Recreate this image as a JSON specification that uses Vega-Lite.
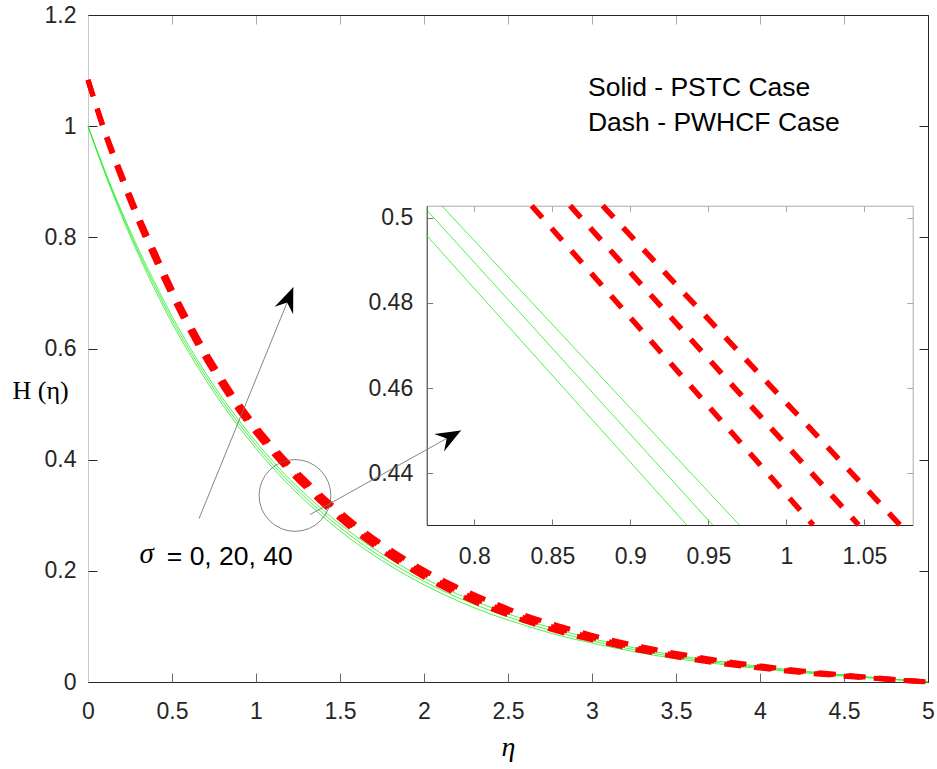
{
  "$schema": "https://vega.github.io/schema/vega-lite/v6.json",
  "width": 840,
  "height": 667,
  "autosize": {"type": "none"},
  "padding": {"left": 88, "top": 15, "right": 9, "bottom": 87},
  "background": "white",
  "config": {
    "view": {"stroke": null},
    "axis": {"labelFont": "Liberation Sans", "labelFontSize": 23, "labelColor": "#262626", "grid": false, "labelFlush": false, "labelOverlap": false, "titleFont": "Liberation Serif", "titleFontWeight": "normal", "titleColor": "black"}
  },
  "datasets": {
    "main": [
      {"eta": 0, "g0": 1, "g20": 1, "g40": 1, "r0": 1.083, "r20": 1.083, "r40": 1.083},
      {"eta": 0.1, "g0": 0.916, "g20": 0.918, "g40": 0.92, "r0": 0.988, "r20": 0.99, "r40": 0.992},
      {"eta": 0.2, "g0": 0.839, "g20": 0.843, "g40": 0.847, "r0": 0.905, "r20": 0.909, "r40": 0.913},
      {"eta": 0.3, "g0": 0.769, "g20": 0.774, "g40": 0.779, "r0": 0.829, "r20": 0.834, "r40": 0.839},
      {"eta": 0.4, "g0": 0.705, "g20": 0.711, "g40": 0.717, "r0": 0.76, "r20": 0.766, "r40": 0.772},
      {"eta": 0.5, "g0": 0.646, "g20": 0.652, "g40": 0.658, "r0": 0.695, "r20": 0.701, "r40": 0.707},
      {"eta": 0.6, "g0": 0.593, "g20": 0.599, "g40": 0.605, "r0": 0.636, "r20": 0.642, "r40": 0.648},
      {"eta": 0.7, "g0": 0.544, "g20": 0.55, "g40": 0.556, "r0": 0.582, "r20": 0.588, "r40": 0.594},
      {"eta": 0.8, "g0": 0.499, "g20": 0.505, "g40": 0.511, "r0": 0.533, "r20": 0.539, "r40": 0.545},
      {"eta": 0.9, "g0": 0.458, "g20": 0.464, "g40": 0.47, "r0": 0.488, "r20": 0.494, "r40": 0.5},
      {"eta": 1.0, "g0": 0.42, "g20": 0.426, "g40": 0.432, "r0": 0.448, "r20": 0.454, "r40": 0.46},
      {"eta": 1.1, "g0": 0.385, "g20": 0.391, "g40": 0.397, "r0": 0.412, "r20": 0.418, "r40": 0.424},
      {"eta": 1.2, "g0": 0.353, "g20": 0.359, "g40": 0.365, "r0": 0.379, "r20": 0.385, "r40": 0.391},
      {"eta": 1.3, "g0": 0.324, "g20": 0.33, "g40": 0.336, "r0": 0.349, "r20": 0.355, "r40": 0.361},
      {"eta": 1.4, "g0": 0.297, "g20": 0.303, "g40": 0.309, "r0": 0.32, "r20": 0.326, "r40": 0.332},
      {"eta": 1.5, "g0": 0.272, "g20": 0.278, "g40": 0.284, "r0": 0.294, "r20": 0.3, "r40": 0.306},
      {"eta": 1.6, "g0": 0.249, "g20": 0.255, "g40": 0.261, "r0": 0.269, "r20": 0.275, "r40": 0.281},
      {"eta": 1.8, "g0": 0.209, "g20": 0.215, "g40": 0.221, "r0": 0.226, "r20": 0.232, "r40": 0.238},
      {"eta": 2.0, "g0": 0.175, "g20": 0.181, "g40": 0.187, "r0": 0.189, "r20": 0.195, "r40": 0.201},
      {"eta": 2.2, "g0": 0.146, "g20": 0.152, "g40": 0.158, "r0": 0.158, "r20": 0.164, "r40": 0.17},
      {"eta": 2.4, "g0": 0.122, "g20": 0.128, "g40": 0.134, "r0": 0.132, "r20": 0.138, "r40": 0.144},
      {"eta": 2.6, "g0": 0.102, "g20": 0.107, "g40": 0.112, "r0": 0.11, "r20": 0.115, "r40": 0.12},
      {"eta": 2.8, "g0": 0.084, "g20": 0.089, "g40": 0.094, "r0": 0.091, "r20": 0.096, "r40": 0.101},
      {"eta": 3.0, "g0": 0.07, "g20": 0.074, "g40": 0.078, "r0": 0.076, "r20": 0.08, "r40": 0.084},
      {"eta": 3.25, "g0": 0.0545, "g20": 0.058, "g40": 0.0615, "r0": 0.059, "r20": 0.0625, "r40": 0.066},
      {"eta": 3.5, "g0": 0.042, "g20": 0.045, "g40": 0.048, "r0": 0.0455, "r20": 0.0485, "r40": 0.0515},
      {"eta": 3.75, "g0": 0.0325, "g20": 0.035, "g40": 0.0375, "r0": 0.034, "r20": 0.0365, "r40": 0.039},
      {"eta": 4.0, "g0": 0.024, "g20": 0.026, "g40": 0.028, "r0": 0.025, "r20": 0.027, "r40": 0.029},
      {"eta": 4.25, "g0": 0.017, "g20": 0.0185, "g40": 0.02, "r0": 0.017, "r20": 0.0185, "r40": 0.02},
      {"eta": 4.5, "g0": 0.0108, "g20": 0.0118, "g40": 0.0128, "r0": 0.0105, "r20": 0.0115, "r40": 0.0125},
      {"eta": 4.75, "g0": 0.0053, "g20": 0.0058, "g40": 0.0063, "r0": 0.005, "r20": 0.0055, "r40": 0.006},
      {"eta": 5.0, "g0": 0, "g20": 0, "g40": 0, "r0": 0, "r20": 0, "r40": 0}
    ],
    "inset": [
      {"c": "g40", "kind": "green", "eta": 0.7791, "H": 0.5028},
      {"c": "g40", "kind": "green", "eta": 0.9699, "H": 0.4279},
      {"c": "g20", "kind": "green", "eta": 0.7695, "H": 0.5018},
      {"c": "g20", "kind": "green", "eta": 0.9528, "H": 0.4279},
      {"c": "g0", "kind": "green", "eta": 0.7695, "H": 0.4958},
      {"c": "g0", "kind": "green", "eta": 0.9362, "H": 0.4279},
      {"c": "r0", "kind": "red", "eta": 0.8368, "H": 0.5028},
      {"c": "r0", "kind": "red", "eta": 1.0172, "H": 0.4279},
      {"c": "r20", "kind": "red", "eta": 0.8614, "H": 0.5028},
      {"c": "r20", "kind": "red", "eta": 1.0463, "H": 0.4279},
      {"c": "r40", "kind": "red", "eta": 0.8823, "H": 0.5028},
      {"c": "r40", "kind": "red", "eta": 1.0729, "H": 0.4279}
    ],
    "arrows": [
      {"id": "a1", "x1": 0.661, "y1": 0.294, "x2": 1.222, "y2": 0.71},
      {"id": "a2", "x1": 1.321, "y1": 0.301, "x2": 2.22, "y2": 0.4525}
    ]
  },
  "resolve": {"scale": {"x": "independent", "y": "independent"}},
  "layer": [
    {
      "data": {"name": "main"},
      "transform": [{"fold": ["g0", "g20", "g40"], "as": ["c", "H"]}],
      "mark": {"type": "line", "color": "#22ee22", "strokeWidth": 0.8, "interpolate": "monotone"},
      "encoding": {
        "x": {"field": "eta", "type": "quantitative", "scale": {"domain": [0, 5], "nice": false, "zero": false},
          "axis": {"orient": "bottom", "values": [0, 0.5, 1, 1.5, 2, 2.5, 3, 3.5, 4, 4.5, 5], "format": "~g", "ticks": false, "domainColor": "#262626", "labelPadding": 18.5,
            "title": "η", "titleFontStyle": "italic", "titleFontSize": 28, "titleX": 420, "titleY": 73, "titleBaseline": "alphabetic"}},
        "y": {"field": "H", "type": "quantitative", "scale": {"domain": [0, 1.2], "nice": false, "zero": false},
          "axis": {"orient": "left", "values": [0, 0.2, 0.4, 0.6, 0.8, 1, 1.2], "format": "~g", "ticks": false, "domainColor": "#c8c8c8", "labelPadding": 12,
            "title": "H (η)", "titleAngle": 0, "titleAlign": "left", "titleBaseline": "alphabetic", "titleFontSize": 26, "titleX": -76, "titleY": 383}},
        "detail": {"field": "c"}
      }
    },
    {
      "data": {"name": "main"},
      "mark": {"type": "point", "opacity": 0},
      "encoding": {
        "x": {"field": "eta", "type": "quantitative", "scale": {"domain": [0, 5], "nice": false, "zero": false},
          "axis": {"orient": "bottom", "values": [0, 0.5, 1, 1.5, 2, 2.5, 3, 3.5, 4, 4.5, 5], "labels": false, "domain": false, "tickSize": -9, "tickColor": "#666666", "title": null}},
        "y": {"field": "g20", "type": "quantitative", "scale": {"domain": [0, 1.2], "nice": false, "zero": false},
          "axis": {"orient": "left", "values": [0, 0.2, 0.4, 0.6, 0.8, 1, 1.2], "labels": false, "domain": false, "tickSize": -9, "tickColor": "#262626", "title": null}}
      }
    },
    {
      "data": {"name": "main"},
      "mark": {"type": "point", "opacity": 0},
      "encoding": {
        "x": {"field": "eta", "type": "quantitative", "scale": {"domain": [0, 5], "nice": false, "zero": false},
          "axis": {"orient": "top", "values": [0, 0.5, 1, 1.5, 2, 2.5, 3, 3.5, 4, 4.5, 5], "labels": false, "tickSize": -9, "tickColor": "#aaaaaa", "domainColor": "#262626", "title": null}},
        "y": {"field": "g20", "type": "quantitative", "scale": {"domain": [0, 1.2], "nice": false, "zero": false},
          "axis": {"orient": "right", "values": [0, 0.2, 0.4, 0.6, 0.8, 1, 1.2], "labels": false, "tickSize": -9, "tickColor": "#262626", "domainColor": "#262626", "title": null}}
      }
    },
    {
      "data": {"name": "main"},
      "transform": [{"fold": ["r0", "r20", "r40"], "as": ["c", "H"]}],
      "mark": {"type": "line", "color": "#ff0000", "strokeWidth": 5, "strokeDash": [17, 13], "interpolate": "monotone"},
      "encoding": {
        "x": {"field": "eta", "type": "quantitative", "scale": {"domain": [0, 5], "nice": false, "zero": false}, "axis": null},
        "y": {"field": "H", "type": "quantitative", "scale": {"domain": [0, 1.2], "nice": false, "zero": false}, "axis": null},
        "detail": {"field": "c"}
      }
    },
    {
      "data": {"values": [{"eta": 1.232, "H": 0.3356}]},
      "mark": {"type": "point", "shape": "circle", "size": 5150, "filled": false, "stroke": "#666666", "strokeWidth": 0.8, "opacity": 1},
      "encoding": {
        "x": {"field": "eta", "type": "quantitative", "scale": {"domain": [0, 5], "nice": false, "zero": false}, "axis": null},
        "y": {"field": "H", "type": "quantitative", "scale": {"domain": [0, 1.2], "nice": false, "zero": false}, "axis": null}
      }
    },
    {
      "data": {"name": "arrows"},
      "mark": {"type": "rule", "color": "#777777", "strokeWidth": 0.9},
      "encoding": {
        "x": {"field": "x1", "type": "quantitative", "scale": {"domain": [0, 5], "nice": false, "zero": false}, "axis": null},
        "y": {"field": "y1", "type": "quantitative", "scale": {"domain": [0, 1.2], "nice": false, "zero": false}, "axis": null},
        "x2": {"field": "x2"},
        "y2": {"field": "y2"}
      }
    },
    {
      "data": {"name": "arrows"},
      "transform": [{"filter": "datum.id === 'a1'"}],
      "mark": {"type": "point", "shape": "M0,0L0.4,1L0,0.65L-0.4,1Z", "size": 2500, "filled": true, "color": "black", "opacity": 1, "angle": 22.2, "strokeWidth": 0},
      "encoding": {
        "x": {"field": "x2", "type": "quantitative", "scale": {"domain": [0, 5], "nice": false, "zero": false}, "axis": null},
        "y": {"field": "y2", "type": "quantitative", "scale": {"domain": [0, 1.2], "nice": false, "zero": false}, "axis": null}
      }
    },
    {
      "data": {"name": "arrows"},
      "transform": [{"filter": "datum.id === 'a2'"}],
      "mark": {"type": "point", "shape": "M0,0L0.4,1L0,0.65L-0.4,1Z", "size": 2500, "filled": true, "color": "black", "opacity": 1, "angle": 60.85, "strokeWidth": 0},
      "encoding": {
        "x": {"field": "x2", "type": "quantitative", "scale": {"domain": [0, 5], "nice": false, "zero": false}, "axis": null},
        "y": {"field": "y2", "type": "quantitative", "scale": {"domain": [0, 1.2], "nice": false, "zero": false}, "axis": null}
      }
    },
    {
      "data": {"values": [{"eta": 0.306, "H": 0.2135, "t": "σ"}]},
      "mark": {"type": "text", "font": "Liberation Serif", "fontStyle": "italic", "fontSize": 29, "align": "left", "baseline": "alphabetic", "color": "black"},
      "encoding": {
        "x": {"field": "eta", "type": "quantitative", "scale": {"domain": [0, 5], "nice": false, "zero": false}, "axis": null},
        "y": {"field": "H", "type": "quantitative", "scale": {"domain": [0, 1.2], "nice": false, "zero": false}, "axis": null},
        "text": {"field": "t"}
      }
    },
    {
      "data": {"values": [
        {"eta": 0.469, "H": 0.2096, "t": "= 0, 20, 40"},
        {"eta": 2.976, "H": 1.0534, "t": "Solid - PSTC Case"},
        {"eta": 2.976, "H": 0.9905, "t": "Dash - PWHCF Case"}
      ]},
      "mark": {"type": "text", "font": "Liberation Sans", "fontSize": 26.5, "align": "left", "baseline": "alphabetic", "color": "black"},
      "encoding": {
        "x": {"field": "eta", "type": "quantitative", "scale": {"domain": [0, 5], "nice": false, "zero": false}, "axis": null},
        "y": {"field": "H", "type": "quantitative", "scale": {"domain": [0, 1.2], "nice": false, "zero": false}, "axis": null},
        "text": {"field": "t"}
      }
    },
    {
      "data": {"name": "inset"},
      "transform": [{"filter": "datum.kind === 'green'"}],
      "mark": {"type": "line", "color": "#22ee22", "strokeWidth": 0.8},
      "encoding": {
        "x": {"field": "eta", "type": "quantitative", "scale": {"domain": [0.7695, 1.081], "range": [338.7, 824.7], "nice": false, "zero": false},
          "axis": {"orient": "bottom", "offset": -157, "values": [0.8, 0.85, 0.9, 0.95, 1, 1.05], "format": "~g", "ticks": false, "domainColor": "#262626", "labelPadding": 20.3, "title": null}},
        "y": {"field": "H", "type": "quantitative", "scale": {"domain": [0.4279, 0.5028], "range": [510, 190.7], "nice": false, "zero": false},
          "axis": {"orient": "left", "offset": -338.7, "values": [0.44, 0.46, 0.48, 0.5], "format": "~g", "ticks": false, "domainColor": "#262626", "labelPadding": 14, "title": null}},
        "detail": {"field": "c"}
      }
    },
    {
      "data": {"name": "inset"},
      "mark": {"type": "point", "opacity": 0},
      "encoding": {
        "x": {"field": "eta", "type": "quantitative", "scale": {"domain": [0.7695, 1.081], "range": [338.7, 824.7], "nice": false, "zero": false},
          "axis": {"orient": "bottom", "offset": -157, "values": [0.8, 0.85, 0.9, 0.95, 1, 1.05], "labels": false, "domain": false, "tickSize": -6, "tickColor": "#777777", "title": null}},
        "y": {"field": "H", "type": "quantitative", "scale": {"domain": [0.4279, 0.5028], "range": [510, 190.7], "nice": false, "zero": false},
          "axis": {"orient": "left", "offset": -338.7, "values": [0.44, 0.46, 0.48, 0.5], "labels": false, "domain": false, "tickSize": -6, "tickColor": "#777777", "title": null}}
      }
    },
    {
      "data": {"name": "inset"},
      "mark": {"type": "point", "opacity": 0},
      "encoding": {
        "x": {"field": "eta", "type": "quantitative", "scale": {"domain": [0.7695, 1.081], "range": [338.7, 824.7], "nice": false, "zero": false},
          "axis": {"orient": "top", "offset": -190.7, "values": [0.8, 0.85, 0.9, 0.95, 1, 1.05], "labels": false, "tickSize": -6, "tickColor": "#aaaaaa", "domainColor": "#aaaaaa", "title": null}},
        "y": {"field": "H", "type": "quantitative", "scale": {"domain": [0.4279, 0.5028], "range": [510, 190.7], "nice": false, "zero": false},
          "axis": {"orient": "right", "offset": -15.3, "values": [0.44, 0.46, 0.48, 0.5], "labels": false, "tickSize": -6, "tickColor": "#aaaaaa", "domainColor": "#aaaaaa", "title": null}}
      }
    },
    {
      "data": {"name": "inset"},
      "transform": [{"filter": "datum.kind === 'red'"}],
      "mark": {"type": "line", "color": "#ff0000", "strokeWidth": 5.5, "strokeDash": [16, 14]},
      "encoding": {
        "x": {"field": "eta", "type": "quantitative", "scale": {"domain": [0.7695, 1.081], "range": [338.7, 824.7], "nice": false, "zero": false}, "axis": null},
        "y": {"field": "H", "type": "quantitative", "scale": {"domain": [0.4279, 0.5028], "range": [510, 190.7], "nice": false, "zero": false}, "axis": null},
        "detail": {"field": "c"}
      }
    }
  ]
}
